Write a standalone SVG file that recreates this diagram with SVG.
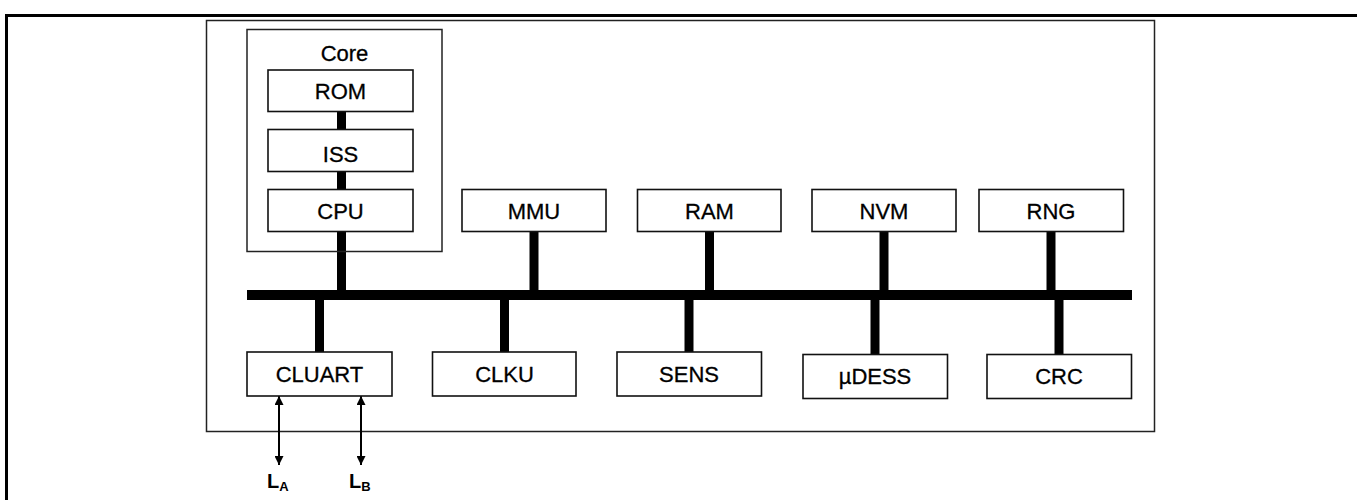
<svg xmlns="http://www.w3.org/2000/svg" width="1357" height="500" viewBox="0 0 1357 500">
<style>
.frame{fill:none;stroke:#000;stroke-width:3}
.chip{fill:none;stroke:#222;stroke-width:1.5}
.box{fill:#fff;stroke:#111;stroke-width:1.6}
.lbl{font-family:"Liberation Sans",Arial,sans-serif;font-size:22px;fill:#000;text-anchor:middle;stroke:#000;stroke-width:0.3}
.bus{stroke:#000;stroke-width:9;fill:none}
.sig{stroke:#000;stroke-width:2;fill:none;marker-start:url(#ah);marker-end:url(#ah)}
.pin{font-family:"Liberation Sans",Arial,sans-serif;font-weight:bold;font-size:20px;fill:#000}
.sub{font-size:13px}
</style>
<defs>
<marker id="ah" viewBox="0 0 10 10" refX="10" refY="5" markerWidth="10" markerHeight="9" markerUnits="userSpaceOnUse" orient="auto-start-reverse">
<path d="M0,0 L10,5 L0,10 z" fill="#000"/>
</marker>
</defs>
<rect width="1357" height="500" fill="#fff"/>
<path class="frame" d="M6.5,502 V15.5 H1360"/>
<rect id="chip" class="chip" x="206.5" y="20.5" width="948" height="411"/>

<g id="connectors">
<line class="bus" x1="341.5" y1="111" x2="341.5" y2="130"/>
<line class="bus" x1="341.5" y1="171" x2="341.5" y2="190"/>
<line class="bus" x1="341.5" y1="231" x2="341.5" y2="292"/>
<line class="bus" x1="534" y1="231" x2="534" y2="292"/>
<line class="bus" x1="709.5" y1="231" x2="709.5" y2="292"/>
<line class="bus" x1="884" y1="231" x2="884" y2="292"/>
<line class="bus" x1="1051" y1="231" x2="1051" y2="292"/>
<rect id="bus" x="247" y="290" width="885" height="10" fill="#000"/>
<line class="bus" x1="319.5" y1="298" x2="319.5" y2="353"/>
<line class="bus" x1="504.5" y1="298" x2="504.5" y2="353"/>
<line class="bus" x1="689" y1="298" x2="689" y2="353"/>
<line class="bus" x1="875" y1="298" x2="875" y2="355"/>
<line class="bus" x1="1059" y1="298" x2="1059" y2="355"/>
<line class="sig" x1="279" y1="396" x2="279" y2="465"/>
<line class="sig" x1="361" y1="396" x2="361" y2="465"/>
</g>

<g id="core">
<rect class="chip" x="247" y="29.5" width="195" height="222"/>
<text class="lbl" x="344.5" y="60.5">Core</text>
</g>
<g id="rom"><rect class="box" x="268" y="70" width="145" height="41.5"/><text class="lbl" x="340.5" y="99">ROM</text></g>
<g id="iss"><rect class="box" x="268" y="129.5" width="145" height="42"/><text class="lbl" x="340.5" y="161.5">ISS</text></g>
<g id="cpu"><rect class="box" x="268" y="189.5" width="145" height="42"/><text class="lbl" x="340.5" y="218.5">CPU</text></g>
<g id="mmu"><rect class="box" x="462" y="189.5" width="144" height="42"/><text class="lbl" x="534" y="218.5">MMU</text></g>
<g id="ram"><rect class="box" x="637.5" y="189.5" width="143.5" height="42"/><text class="lbl" x="709.5" y="218.5">RAM</text></g>
<g id="nvm"><rect class="box" x="812" y="189.5" width="144" height="42"/><text class="lbl" x="884" y="218.5">NVM</text></g>
<g id="rng"><rect class="box" x="979" y="189.5" width="144.5" height="42"/><text class="lbl" x="1051" y="218.5">RNG</text></g>
<g id="cluart"><rect class="box" x="247" y="352" width="145" height="44"/><text class="lbl" x="319.5" y="381.5">CLUART</text></g>
<g id="clku"><rect class="box" x="432.5" y="352" width="143.5" height="44"/><text class="lbl" x="504.5" y="381.5">CLKU</text></g>
<g id="sens"><rect class="box" x="617" y="352" width="144.5" height="44"/><text class="lbl" x="689" y="381.5">SENS</text></g>
<g id="udess"><rect class="box" x="803" y="354.5" width="144.5" height="44"/><text class="lbl" x="875" y="384">µDESS</text></g>
<g id="crc"><rect class="box" x="987" y="354.5" width="144.5" height="44"/><text class="lbl" x="1059" y="384">CRC</text></g>

<g id="la"><text class="pin" x="267" y="488">L<tspan class="sub" dy="3">A</tspan></text></g>
<g id="lb"><text class="pin" x="349" y="488">L<tspan class="sub" dy="3">B</tspan></text></g>
</svg>
